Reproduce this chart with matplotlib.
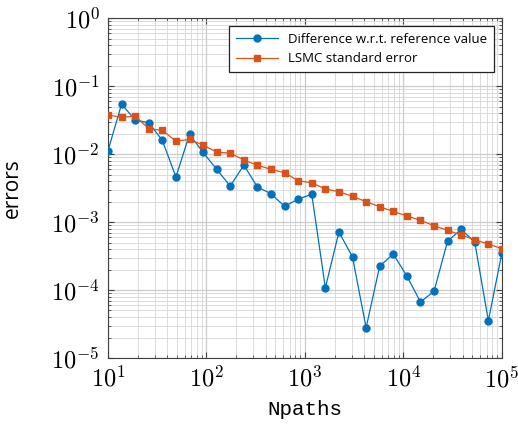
import numpy as np
import matplotlib
matplotlib.use("Agg")
import matplotlib.pyplot as plt
from matplotlib.ticker import LogLocator, NullFormatter, FuncFormatter

plt.rcParams['mathtext.fontset'] = 'cm'

npaths = np.logspace(1, 5, 30)

diff_ref = [0.0112, 0.0544, 0.0316, 0.0289, 0.0159, 0.00459, 0.0195, 0.01058,
            0.00596, 0.00338, 0.00689, 0.00327, 0.00261, 0.00170, 0.00218,
            0.00255, 0.000108, 0.000713, 0.000306, 2.79e-5, 0.000225,
            0.000338, 0.000161, 6.67e-5, 9.57e-5, 0.000526, 0.00078,
            0.000503, 3.54e-5, 0.000354]

lsmc_se = [0.0375, 0.0347, 0.0362, 0.0236, 0.0223, 0.0155, 0.0164, 0.01356,
           0.0107, 0.0103, 0.00817, 0.00683, 0.00596, 0.00531, 0.00405,
           0.00378, 0.00306, 0.00279, 0.00239, 0.00199, 0.00168, 0.00143,
           0.00123, 0.00106, 0.000883, 0.000755, 0.000644, 0.000549,
           0.000475, 0.000405]

fig = plt.figure(figsize=(5.18, 4.30), dpi=100)
ax = fig.add_axes([0.2085, 0.1674, 0.7605, 0.7906])

ax.plot(npaths, diff_ref, color='#0072BD', marker='o', markersize=5,
        linewidth=0.9, label='Difference w.r.t. reference value', zorder=3)
ax.plot(npaths, lsmc_se, color='#D95319', marker='s', markersize=4.5,
        linewidth=0.9, label='LSMC standard error', zorder=3)

ax.set_xscale('log')
ax.set_yscale('log')
ax.set_xlim(10, 1e5)
ax.set_ylim(1e-5, 1)

pow_fmt = FuncFormatter(lambda v, p: r'$10^{%d}$' % round(np.log10(v)))
ax.xaxis.set_major_locator(LogLocator(base=10, numticks=10))
ax.yaxis.set_major_locator(LogLocator(base=10, numticks=10))
ax.xaxis.set_major_formatter(pow_fmt)
ax.yaxis.set_major_formatter(pow_fmt)
ax.xaxis.set_minor_locator(LogLocator(base=10, subs=np.arange(2, 10), numticks=20))
ax.yaxis.set_minor_locator(LogLocator(base=10, subs=np.arange(2, 10), numticks=20))
ax.xaxis.set_minor_formatter(NullFormatter())
ax.yaxis.set_minor_formatter(NullFormatter())

ax.grid(True, which='major', color='#cccccc', linewidth=0.9)
ax.grid(True, which='minor', color='#d6d6d6', linewidth=0.6)
ax.set_axisbelow(True)

ax.tick_params(which='both', direction='in', top=True, right=True,
               labelsize=17.5, color='#404040')
ax.tick_params(which='major', length=4, pad=6)
ax.tick_params(which='minor', length=2.5)
for s in ax.spines.values():
    s.set_color('#404040')

ax.set_xlabel('Npaths', family='Liberation Mono', fontsize=15, labelpad=6)
ax.set_ylabel('errors', family='Open Sans', fontsize=15, labelpad=20)

leg = ax.legend(loc='upper right', prop={'family': 'Open Sans', 'size': 9.5},
                fancybox=False, edgecolor='#222222', framealpha=1,
                borderaxespad=0.6, handlelength=3.2, borderpad=0.5)
leg.get_frame().set_linewidth(0.9)

fig.savefig('out.png', dpi=100)
